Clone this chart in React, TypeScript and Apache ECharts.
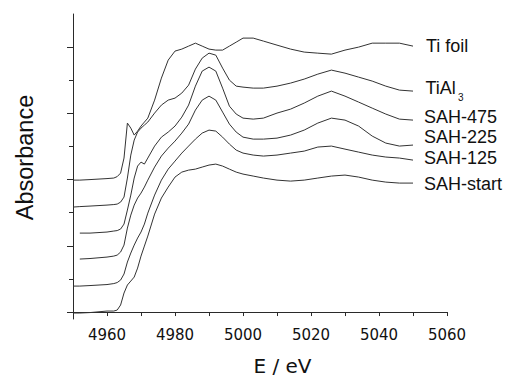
import React, { useEffect, useRef } from "react";
import * as echarts from "echarts";

// Photon energy grid (eV)
const energies = [
  4950, 4952, 4955, 4960, 4962, 4963, 4964, 4965, 4966, 4967,
  4968, 4969, 4970, 4971, 4972, 4974, 4976, 4978, 4980, 4982,
  4984, 4986, 4988, 4990, 4992, 4994, 4996, 4998, 5000, 5003,
  5006, 5010, 5014, 5018, 5022, 5026, 5030, 5034, 5038, 5042,
  5046, 5050,
];

// Absorbance (stacked, arbitrary offsets)
const tiFoil = [
  1.992, 1.992, 2.0, 2.015, 2.023, 2.045, 2.098, 2.325, 2.853, 2.777,
  2.672, 2.732, 2.808, 2.868, 2.928, 3.2, 3.532, 3.804, 3.94, 3.97,
  4.015, 4.06, 4.015, 3.97, 3.955, 3.955, 4.015, 4.075, 4.136, 4.136,
  4.091, 4.03, 3.97, 3.925, 3.909, 3.894, 3.955, 4.0, 4.06, 4.06,
  4.06, 4.015,
];
const tiAl3 = [
  1.585, 1.592, 1.6, 1.615, 1.623, 1.63, 1.66, 1.736, 2.023, 2.37,
  2.596, 2.717, 2.777, 2.823, 2.868, 3.004, 3.125, 3.2, 3.23, 3.306,
  3.426, 3.668, 3.834, 3.909, 3.879, 3.683, 3.502, 3.411, 3.396, 3.381,
  3.381, 3.411, 3.457, 3.517, 3.592, 3.653, 3.607, 3.547, 3.487, 3.411,
  3.351, 3.336,
];
const sah475 = [
  null, 1.192, 1.192, 1.208, 1.223, 1.23, 1.253, 1.328, 1.54, 1.766,
  2.023, 2.204, 2.264, 2.234, 2.325, 2.506, 2.641, 2.717, 2.808, 2.943,
  3.125, 3.411, 3.638, 3.698, 3.638, 3.381, 3.109, 2.989, 2.928, 2.913,
  2.928, 3.004, 3.064, 3.155, 3.26, 3.336, 3.26, 3.17, 3.079, 2.989,
  2.913, 2.898,
];
const sah225 = [
  null, 0.8, 0.808, 0.83, 0.845, 0.86, 0.906, 1.011, 1.268, 1.464,
  1.615, 1.721, 1.796, 1.887, 1.992, 2.189, 2.355, 2.475, 2.581, 2.702,
  2.838, 3.049, 3.2, 3.26, 3.2, 3.019, 2.838, 2.717, 2.641, 2.611,
  2.611, 2.626, 2.672, 2.747, 2.853, 2.928, 2.898, 2.808, 2.657, 2.551,
  2.506, 2.521,
];
const sah125 = [
  0.392, 0.392, 0.4, 0.415, 0.43, 0.445, 0.483, 0.574, 0.755, 0.891,
  1.011, 1.117, 1.208, 1.328, 1.494, 1.766, 1.992, 2.158, 2.279, 2.4,
  2.506, 2.611, 2.702, 2.747, 2.732, 2.641, 2.536, 2.445, 2.4, 2.37,
  2.355, 2.37, 2.4, 2.43, 2.491, 2.506, 2.46, 2.415, 2.37, 2.34,
  2.325, 2.294,
];
const sahStart = [
  -0.015, -0.015, -0.008, 0.015, 0.015, 0.03, 0.106, 0.287, 0.408, 0.468,
  0.528, 0.664, 0.845, 0.996, 1.147, 1.479, 1.721, 1.887, 2.038, 2.113,
  2.143, 2.158, 2.189, 2.219, 2.234, 2.204, 2.158, 2.113, 2.083, 2.053,
  2.023, 1.992, 1.977, 1.992, 2.023, 2.053, 2.068, 2.038, 1.992, 1.962,
  1.947, 1.947,
];

const seriesNames = ["Ti foil", "TiAl3", "SAH-475", "SAH-225", "SAH-125", "SAH-start"];
const seriesValues = [tiFoil, tiAl3, sah475, sah225, sah125, sahStart];

const xTickValues = [4950, 4960, 4970, 4980, 4990, 5000, 5010, 5020, 5030, 5040, 5050, 5060];
const yMajorTicks = [0, 1, 2, 3, 4];
const yMinorTicks = [0.5, 1.5, 2.5, 3.5];

const AXIS_COLOR = "#2a2a2a";
const LINE_COLOR = "#333333";
const LABEL_FONT = '18px "Liberation Sans", Arial, sans-serif';

function textEl(text: string, x: number, y: number, font: string, extra: any = {}) {
  return {
    type: "text",
    x,
    y,
    silent: true,
    ...extra,
    style: {
      text,
      x: 0,
      y: 0,
      font,
      fill: "#111",
      align: extra.align || "left",
      verticalAlign: "middle",
      textAlign: extra.align || "left",
      textVerticalAlign: "middle",
    },
  };
}

export default function App() {
  const ref = useRef<HTMLDivElement>(null);

  useEffect(() => {
    if (!ref.current) return;
    const chart = echarts.init(ref.current, undefined, { renderer: "svg" });

    const series = seriesValues.map((vals, si) => ({
      name: seriesNames[si],
      type: "line",
      showSymbol: false,
      symbol: "none",
      smooth: false,
      lineStyle: { color: LINE_COLOR, width: 1 },
      data: energies
        .map((e, i) => [e, vals[i]])
        .filter((p) => p[1] !== null),
    }));

    chart.setOption({
      animation: false,
      backgroundColor: "#ffffff",
      grid: { left: 73, right: 58, top: 14, bottom: 58, containLabel: false },
      xAxis: {
        type: "value",
        min: 4950,
        max: 5060,
        interval: 10,
        axisLine: { show: true, lineStyle: { color: AXIS_COLOR, width: 1 } },
        axisTick: { show: true, length: 4, inside: false, customValues: xTickValues, lineStyle: { color: AXIS_COLOR } },
        axisLabel: {
          show: true,
          margin: 8,
          color: "#111",
          fontFamily: '"DejaVu Sans", sans-serif',
          fontSize: 15,
          formatter: (v: number) => (v % 20 === 0 ? String(v) : ""),
        },
        splitLine: { show: false },
      },
      yAxis: [
        {
          type: "value",
          min: -0.105,
          max: 4.5,
          position: "left",
          axisLine: { show: true, lineStyle: { color: AXIS_COLOR, width: 1 } },
          axisTick: { show: true, length: 6, customValues: yMajorTicks, lineStyle: { color: AXIS_COLOR } },
          axisLabel: { show: false },
          splitLine: { show: false },
        },
        {
          type: "value",
          min: -0.105,
          max: 4.5,
          position: "left",
          offset: 0,
          axisLine: { show: false },
          axisTick: { show: true, length: 4, customValues: yMinorTicks, lineStyle: { color: AXIS_COLOR } },
          axisLabel: { show: false },
          splitLine: { show: false },
        },
      ],
      series,
      graphic: [
        textEl("Ti foil", 426, 46, LABEL_FONT),
        textEl("TiAl", 425.5, 88, LABEL_FONT),
        textEl("3", 458, 97, '10px "Liberation Sans", Arial, sans-serif'),
        textEl("SAH-475", 424, 117, LABEL_FONT),
        textEl("SAH-225", 424, 137, LABEL_FONT),
        textEl("SAH-125", 424, 158, LABEL_FONT),
        textEl("SAH-start", 424, 184, LABEL_FONT),
        textEl("E / eV", 282.5, 366, '20px "DejaVu Sans", sans-serif', { align: "center" }),
        textEl("Absorbance", 25, 157.5, '23.5px "Liberation Sans", Arial, sans-serif', {
          align: "center",
          rotation: Math.PI / 2,
        }),
      ],
    });

    return () => chart.dispose();
  }, []);

  return (
    <div
      ref={ref}
      style={{ position: "fixed", left: 0, top: 0, width: 505, height: 377, background: "#fff" }}
    />
  );
}
